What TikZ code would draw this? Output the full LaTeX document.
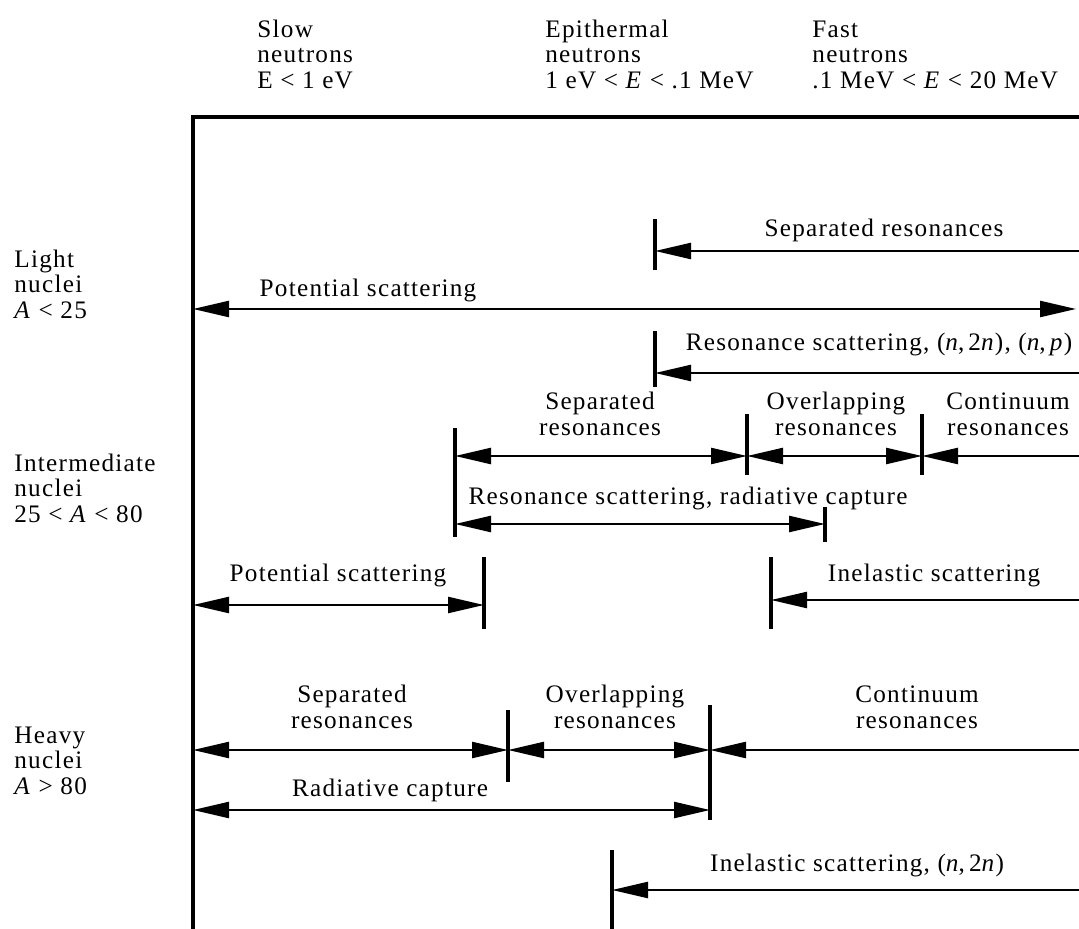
\documentclass[tikz,border=0pt]{standalone}
\usepackage{fontspec}
\setmainfont{Liberation Serif}[LetterSpace=5]
\usetikzlibrary{arrows.meta}

\begin{document}
\begin{tikzpicture}[x=0.5pt,y=-0.5pt,>={Triangle[length=18pt,width=8pt]},
  font=\fontsize{12.6}{12.8}\selectfont,
  lbl/.style={inner sep=0pt,anchor=base},
  lbltwo/.style={inner sep=0pt,align=center,anchor=south},
  hd/.style={inner sep=0pt,align=left,anchor=south west},
  rng/.style={line width=1.2pt},
  tk/.style={line width=1.6pt},
  frame/.style={line width=2pt}]
\useasboundingbox (0,0) rectangle (1079,929);
\node[hd] (hslow) at (257,89) {Slow\\neutrons\\E < 1 eV};
\node[hd] (hepi) at (545,89) {Epithermal\\neutrons\\1 eV < \textit{E} < .1 MeV};
\node[hd] (hfast) at (812,89) {Fast\\neutrons\\.1 MeV < \textit{E} < 20 MeV};
\node[hd] (light) at (14,319) {Light\\nuclei\\\textit{A} < 25};
\node[hd] (inter) at (14,523) {Intermediate\\nuclei\\25 < \textit{A} < 80};
\node[hd] (heavy) at (14,795) {Heavy\\nuclei\\\textit{A} > 80};
\coordinate (corner) at (193,117);
\coordinate (axbot) at (193,929);
\coordinate (axright) at (1079,117);
\draw[frame] (axbot) -- (corner) -- (axright);
% light nuclei
\coordinate (ls0) at (655,251); \coordinate (ls1) at (1079,251);
\draw[rng,<-] (ls0) -- (ls1);
\draw[tk] ([yshift=16pt]ls0) -- ([yshift=-9.5pt]ls0);
\node[lbl] (lsep) at (884,237) {Separated resonances};
\coordinate (lp0) at (193,309); \coordinate (lp1) at (1076,309);
\draw[rng,<->] (lp0) -- (lp1);
\node[lbl] (lpot) at (368,297) {Potential scattering};
\coordinate (lr0) at (655,373); \coordinate (lr1) at (1079,373);
\draw[rng,<-] (lr0) -- (lr1);
\draw[tk] ([yshift=21pt]lr0) -- ([yshift=-7pt]lr0);
\node[lbl] (lres) at (879,351) {Resonance scattering, (\textit{n},\,2\textit{n}), (\textit{n},\,\textit{p})};
% intermediate nuclei
\coordinate (is0) at (455,456); \coordinate (is1) at (747,456);
\coordinate (is2) at (922,456); \coordinate (is3) at (1079,456);
\draw[rng,<->] (is0) -- (is1);
\draw[rng,<->] (is1) -- (is2);
\draw[rng,<-] (is2) -- (is3);
\draw[tk] ([yshift=14pt]is0) -- ([yshift=-40.5pt]is0);
\draw[tk] ([yshift=21pt]is1) -- ([yshift=-9.5pt]is1);
\draw[tk] ([yshift=21pt]is2) -- ([yshift=-9.5pt]is2);
\node[lbltwo] (isep) at (600,436) {Separated\\resonances};
\node[lbltwo] (iovl) at (836,436) {Overlapping\\resonances};
\node[lbltwo] (icon) at (1008,436) {Continuum\\resonances};
\coordinate (ir0) at (455,524); \coordinate (ir1) at (825,524);
\draw[rng,<->] (ir0) -- (ir1);
\draw[tk] ([yshift=8.5pt]ir1) -- ([yshift=-9pt]ir1);
\node[lbl] (ircap) at (688,504) {Resonance scattering, radiative capture};
\coordinate (ip0) at (193,605); \coordinate (ip1) at (484,605);
\draw[rng,<->] (ip0) -- (ip1);
\draw[tk] ([yshift=24pt]ip1) -- ([yshift=-12pt]ip1);
\node[lbl] (ipot) at (338,581) {Potential scattering};
\coordinate (ii0) at (771,600); \coordinate (ii1) at (1079,600);
\draw[rng,<-] (ii0) -- (ii1);
\draw[tk] ([yshift=21.5pt]ii0) -- ([yshift=-14.5pt]ii0);
\node[lbl] (iinel) at (934,581) {Inelastic scattering};
% heavy nuclei
\coordinate (hs0) at (193,750); \coordinate (hs1) at (508,750);
\coordinate (hs2) at (710,750); \coordinate (hs3) at (1079,750);
\draw[rng,<->] (hs0) -- (hs1);
\draw[rng,<->] (hs1) -- (hs2);
\draw[rng,<-] (hs2) -- (hs3);
\draw[tk] ([yshift=20pt]hs1) -- ([yshift=-16pt]hs1);
\draw[tk] ([yshift=22.5pt]hs2) -- ([yshift=-35pt]hs2);
\node[lbltwo] (hsep) at (352,729) {Separated\\resonances};
\node[lbltwo] (hovl) at (615,729) {Overlapping\\resonances};
\node[lbltwo] (hcon) at (917,729) {Continuum\\resonances};
\coordinate (hr0) at (193,810); \coordinate (hr1) at (710,810);
\draw[rng,<->] (hr0) -- (hr1);
\node[lbl] (hrcap) at (390,796) {Radiative capture};
\coordinate (hi0) at (612,890); \coordinate (hi1) at (1079,890);
\draw[rng,<-] (hi0) -- (hi1);
\draw[tk] ([yshift=20pt]hi0) -- (hi0 |- axbot);
\node[lbl] (hinel) at (857,871) {Inelastic scattering, (\textit{n},\,2\textit{n})};
\end{tikzpicture}
\end{document}
